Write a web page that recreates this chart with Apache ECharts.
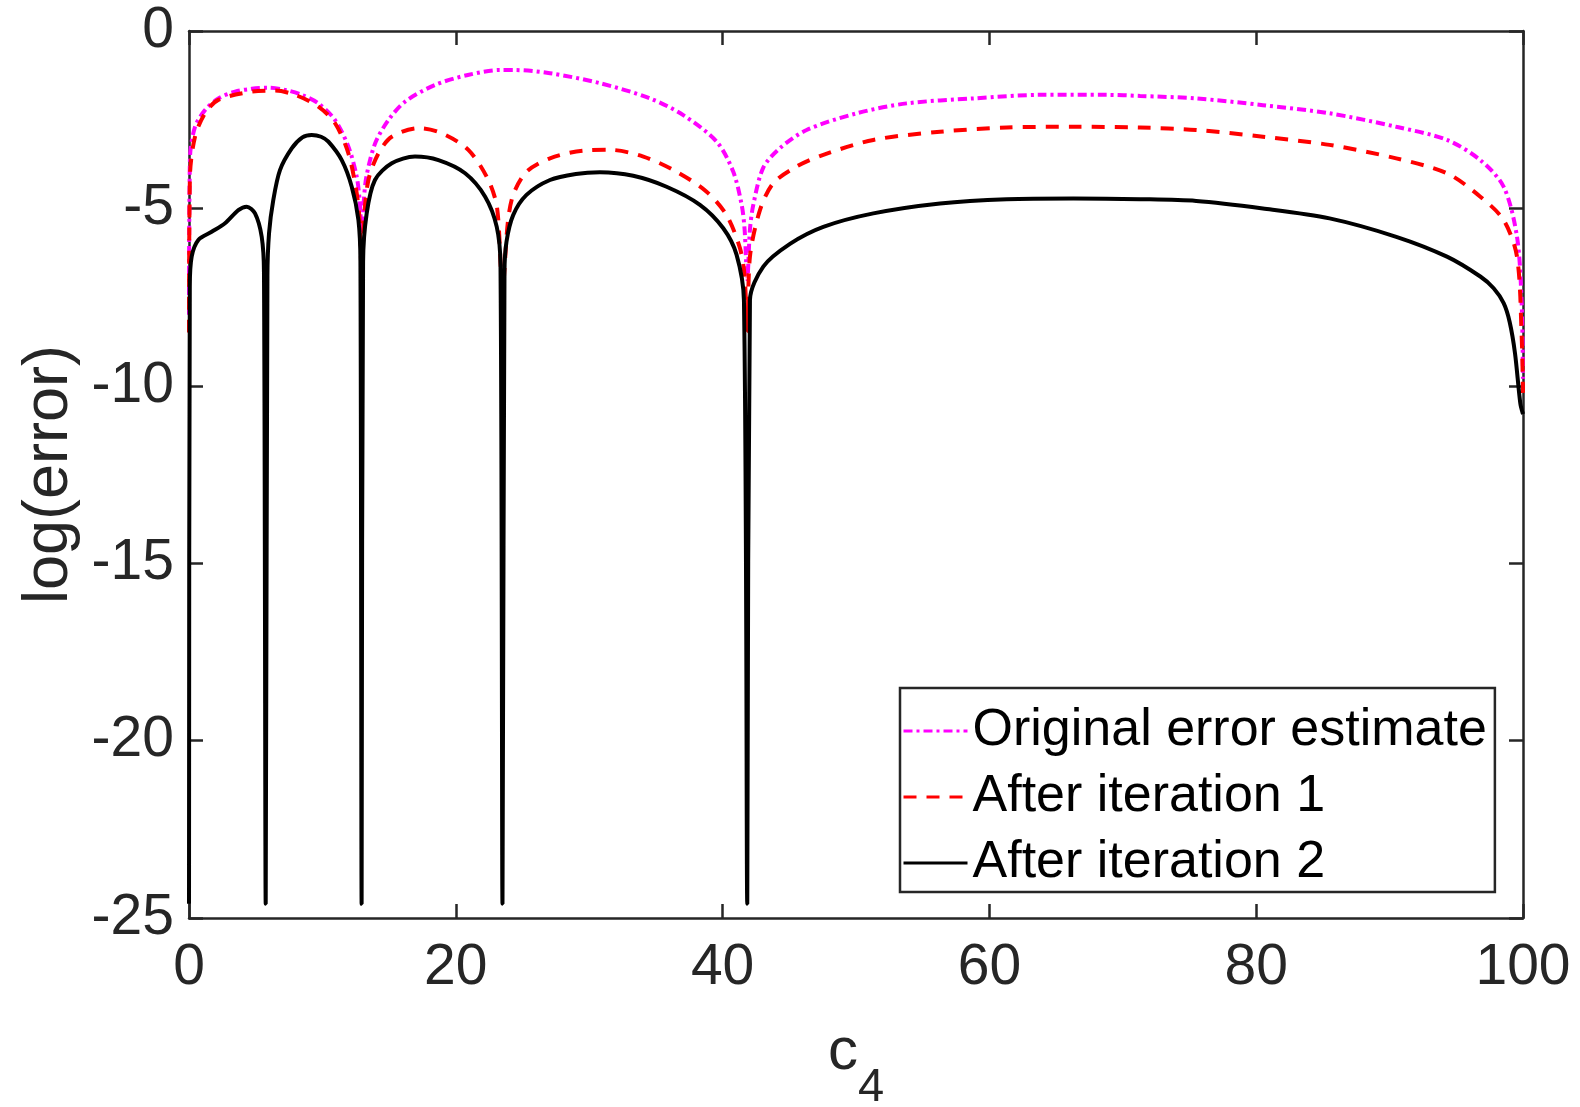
<!DOCTYPE html>
<html>
<head>
<meta charset="utf-8">
<script src="https://cdn.jsdelivr.net/npm/echarts@6/dist/echarts.min.js"></script>
<style>
  html, body { margin: 0; padding: 0; background: #fff; }
  #chart { width: 1580px; height: 1107px; }
</style>
</head>
<body>
<div id="chart"></div>
<script>
// Error curves over the parameter c4 (log scale of the error)
const xTicks = [0, 20, 40, 60, 80, 100];
const yTicks = [-25, -20, -15, -10, -5, 0];

const origX = [0, 0.07, 0.45, 1.2, 2.2, 3.45, 4.7, 5.95, 7.2, 8.45, 9.7, 10.95, 11.95, 12.57, 12.8, 12.95, 13.1, 13.3, 13.95, 14.95, 16.2, 18.44, 20.9, 23.3, 24.4, 27.06, 30.8, 34.56, 37.05, 39.56, 40.8, 41.43, 41.65, 41.85, 42.05, 42.3, 43.05, 44.3, 46.3, 50.05, 53.8, 58.8, 63.8, 68.8, 71.3, 75.5, 80.5, 85.5, 90.5, 94.3, 96.8, 98.55, 99.55, 99.9, 100];
const origY = [-8.0, -3.6, -2.7, -2.23, -1.9, -1.71, -1.63, -1.6, -1.66, -1.8, -2.04, -2.51, -3.26, -4.1, -4.8, -5.7, -4.8, -4.1, -3.17, -2.51, -1.99, -1.52, -1.24, -1.10, -1.10, -1.19, -1.47, -1.9, -2.37, -3.12, -3.97, -4.9, -5.6, -7.0, -5.6, -4.9, -3.85, -3.3, -2.79, -2.32, -2.04, -1.9, -1.8, -1.8, -1.83, -1.9, -2.09, -2.32, -2.7, -3.07, -3.64, -4.39, -5.8, -7.67, -9.8];

const iter1X = [0, 0.07, 0.45, 1.2, 2.2, 4.7, 6.45, 7.95, 9.7, 10.95, 11.95, 12.57, 12.8, 12.95, 13.1, 13.45, 14.2, 15.2, 17.2, 18.94, 20.94, 22.44, 23.1, 23.5, 23.9, 24.3, 25.3, 27.06, 29.56, 31.56, 34.06, 36.56, 38.8, 40.3, 41.3, 41.65, 41.85, 42.05, 42.8, 43.8, 45.55, 47.55, 51.3, 56.3, 61.3, 66.3, 71.3, 75.5, 80.5, 85.5, 90.5, 94.3, 96.8, 98.55, 99.55, 99.9, 100];
const iter1Y = [-8.5, -4.1, -2.98, -2.32, -1.94, -1.71, -1.68, -1.8, -2.13, -2.6, -3.45, -4.57, -5.4, -7.0, -5.4, -4.2, -3.45, -2.98, -2.74, -2.88, -3.35, -4.2, -5.0, -7.3, -5.4, -4.62, -3.97, -3.59, -3.37, -3.35, -3.54, -3.97, -4.53, -5.19, -6.12, -6.9, -8.5, -6.36, -5.05, -4.29, -3.82, -3.49, -3.07, -2.84, -2.72, -2.70, -2.72, -2.79, -2.98, -3.21, -3.59, -4.01, -4.67, -5.33, -6.36, -8.6, -10.2];

const iter2X = [0, 0.06, 0.2, 0.7, 1.7, 2.7, 3.7, 4.32, 4.95, 5.45, 5.62, 5.75, 5.88, 6.0, 6.32, 6.82, 7.7, 8.5, 9.2, 9.9, 10.45, 11.45, 12.2, 12.7, 12.85, 12.94, 13.05, 13.32, 13.94, 15.2, 16.94, 18.7, 20.7, 22.2, 23.07, 23.35, 23.5, 23.65, 23.8, 24.3, 25.3, 27.06, 29.0, 30.8, 33.3, 35.8, 38.3, 40.05, 41.05, 41.6, 41.85, 42.05, 43.05, 45.05, 47.55, 51.3, 56.3, 61.3, 66.3, 71.3, 75.5, 80.5, 85.5, 90.5, 94.3, 96.8, 97.8, 98.55, 99.0, 99.4, 99.8, 100];
const iter2Y = [-24.6, -7.2, -6.36, -5.89, -5.66, -5.42, -5.05, -4.95, -5.14, -5.8, -6.8, -24.6, -6.9, -5.7, -4.76, -3.92, -3.31, -3.0, -2.93, -2.98, -3.12, -3.64, -4.39, -5.33, -6.5, -24.6, -6.5, -5.14, -4.2, -3.73, -3.54, -3.64, -4.01, -4.67, -5.52, -6.6, -24.6, -6.8, -5.94, -5.19, -4.62, -4.2, -4.03, -3.98, -4.08, -4.39, -4.9, -5.56, -6.31, -7.6, -24.6, -7.58, -6.64, -6.0, -5.52, -5.14, -4.86, -4.74, -4.72, -4.74, -4.79, -5.0, -5.28, -5.8, -6.36, -6.92, -7.25, -7.67, -8.2, -9.08, -10.5, -10.8];

const seriesNames = ['Original error estimate', 'After iteration 1', 'After iteration 2'];

const zip = (xs, ys) => xs.map((x, i) => [x, ys[i]]);

const axisColor = '#262626';
const fontFamily = 'Liberation Sans, Arial, Helvetica, sans-serif';

const chart = echarts.init(document.getElementById('chart'), null, { renderer: 'canvas' });

const baseAxisLine = { show: true, onZero: false, lineStyle: { color: axisColor, width: 2.5 } };
const baseTick = { show: true, inside: true, length: 14, lineStyle: { color: axisColor, width: 2.5 } };

chart.setOption({
  backgroundColor: '#ffffff',
  animation: false,
  textStyle: { fontFamily: fontFamily },
  grid: { left: 189, top: 31, right: 57, bottom: 189, containLabel: false, outerBoundsMode: 'none' },
  xAxis: [
    {
      type: 'value', position: 'bottom',
      min: xTicks[0], max: xTicks[xTicks.length - 1], interval: 20,
      axisLine: baseAxisLine, axisTick: baseTick, splitLine: { show: false },
      axisLabel: { color: axisColor, fontSize: 57, margin: 22, fontFamily: fontFamily },
      name: '{c|c}{s|4}', nameLocation: 'middle', nameGap: 104,
      nameTextStyle: {
        rich: {
          c: { fontSize: 60, color: axisColor, fontFamily: fontFamily, lineHeight: 90, verticalAlign: 'top' },
          s: { fontSize: 47, color: axisColor, fontFamily: fontFamily, lineHeight: 90, verticalAlign: 'bottom' }
        }
      }
    },
    {
      type: 'value', position: 'top',
      min: xTicks[0], max: xTicks[xTicks.length - 1], interval: 20,
      axisLine: baseAxisLine, axisTick: baseTick, splitLine: { show: false },
      axisLabel: { show: false }
    }
  ],
  yAxis: [
    {
      type: 'value', position: 'left',
      min: yTicks[0], max: yTicks[yTicks.length - 1], interval: 5,
      axisLine: baseAxisLine, axisTick: baseTick, splitLine: { show: false },
      axisLabel: { color: axisColor, fontSize: 57, margin: 15, fontFamily: fontFamily },
      name: 'log(error)', nameLocation: 'middle', nameGap: 106, nameRotate: 90,
      nameTextStyle: { color: axisColor, fontSize: 63, fontFamily: fontFamily }
    },
    {
      type: 'value', position: 'right',
      min: yTicks[0], max: yTicks[yTicks.length - 1], interval: 5,
      axisLine: baseAxisLine, axisTick: baseTick, splitLine: { show: false },
      axisLabel: { show: false }
    }
  ],
  legend: {
    orient: 'vertical',
    left: 900, top: 688,
    padding: [15, 8, 1, 2],
    itemGap: 10,
    itemWidth: 64, itemHeight: 20,
    backgroundColor: '#ffffff',
    borderColor: axisColor, borderWidth: 2.5,
    borderRadius: 0,
    itemStyle: { opacity: 0 },
    lineStyle: { width: 3 },
    textStyle: { color: '#000', fontSize: 52, lineHeight: 56, fontFamily: fontFamily },
    data: seriesNames
  },
  series: [
    {
      name: seriesNames[0], type: 'line', data: zip(origX, origY),
      showSymbol: false, symbol: 'none', smooth: 0.3,
      lineStyle: { color: '#ff00ff', width: 4, type: [9, 4, 3, 4] },
      itemStyle: { color: '#ff00ff' }, z: 3
    },
    {
      name: seriesNames[1], type: 'line', data: zip(iter1X, iter1Y),
      showSymbol: false, symbol: 'none', smooth: 0.3,
      lineStyle: { color: '#ff0000', width: 4, type: [13, 10] },
      itemStyle: { color: '#ff0000' }, z: 4
    },
    {
      name: seriesNames[2], type: 'line', data: zip(iter2X, iter2Y),
      showSymbol: false, symbol: 'none', smooth: 0.3,
      lineStyle: { color: '#000000', width: 4, type: 'solid' },
      itemStyle: { color: '#000000' }, z: 5
    }
  ]
});
</script>
</body>
</html>
